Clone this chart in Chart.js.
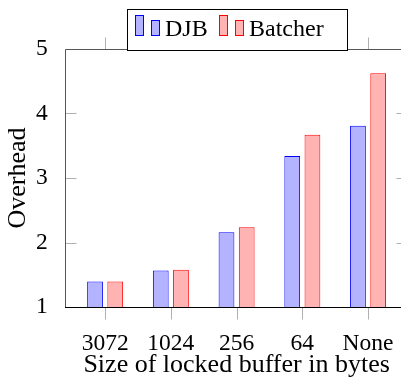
<!DOCTYPE html>
<html><head><meta charset="utf-8">
<script src="https://cdn.jsdelivr.net/npm/chart.js@4.4.1/dist/chart.umd.min.js"></script>
<style>
html,body{margin:0;padding:0;overflow:hidden;background:#fff;width:401px;height:381px}
#wrap{position:absolute;left:0;top:0;width:420px;height:381px}
</style>
</head><body><div id="wrap"><canvas id="c" width="420" height="381"></canvas></div>
<script>
const categories = ['3072', '1024', '256', '64', 'None'];
const seriesNames = ['DJB', 'Batcher'];
const djbValues = [1.40, 1.57, 2.16, 3.34, 3.81];
const batcherValues = [1.40, 1.58, 2.24, 3.67, 4.62];
const yTicks = [1, 2, 3, 4, 5];
const xTitle = 'Size of locked buffer in bytes';
const yTitle = 'Overhead';

const FONT = "'Liberation Serif', 'DejaVu Serif', serif";
Chart.defaults.font.family = FONT;
Chart.defaults.color = '#000';

const toPoints = vals => vals.map((v, i) => ({ x: i, y: v }));

const framePlugin = {
  id: 'frame',
  afterDatasetsDraw(chart) {
    const { ctx, chartArea: a, scales: { x, y } } = chart;
    const L = Math.round(a.left) - 0.5, R = Math.round(a.right) - 0.5;
    const T = Math.round(a.top) + 0.5, B = Math.round(a.bottom) + 0.5;
    ctx.save();
    ctx.lineWidth = 1;
    ctx.strokeStyle = '#b0b0b0';
    ctx.beginPath();
    yTicks.forEach(v => {
      const py = Math.round(y.getPixelForValue(v)) + 0.5;
      ctx.moveTo(L, py); ctx.lineTo(L + 11, py);
      ctx.moveTo(R, py); ctx.lineTo(R - 11, py);
    });
    categories.forEach((c, i) => {
      const px = Math.round(x.getPixelForValue(i)) + 0.5;
      ctx.moveTo(px, B); ctx.lineTo(px, B + 12);
      ctx.moveTo(px, T); ctx.lineTo(px, T - 12);
    });
    ctx.stroke();
    ctx.strokeStyle = '#555';
    ctx.beginPath();
    ctx.moveTo(L, B); ctx.lineTo(L, T); ctx.lineTo(R, T); ctx.lineTo(R, B);
    ctx.stroke();
    ctx.strokeStyle = '#000';
    ctx.beginPath();
    ctx.moveTo(L - 0.5, B); ctx.lineTo(R + 0.5, B);
    ctx.stroke();
    ctx.restore();
  },
  afterDraw(chart) {
    const ctx = chart.ctx;
    ctx.save();
    ctx.lineWidth = 1;
    ctx.fillStyle = '#fff';
    ctx.strokeStyle = '#000';
    ctx.fillRect(127.5, 9.5, 220, 41);
    ctx.strokeRect(127.5, 9.5, 220, 41);
    const starts = [135, 219];
    ctx.font = '24px ' + FONT;
    ctx.textBaseline = 'alphabetic';
    chart.data.datasets.forEach((ds, i) => {
      const x0 = starts[i];
      ctx.fillStyle = ds.backgroundColor;
      ctx.strokeStyle = ds.borderColor;
      ctx.fillRect(x0 + 0.5, 15.5, 8, 20);
      ctx.strokeRect(x0 + 0.5, 15.5, 8, 20);
      ctx.fillRect(x0 + 16.5, 20.5, 8, 15);
      ctx.strokeRect(x0 + 16.5, 20.5, 8, 15);
      ctx.fillStyle = '#000';
      ctx.fillText(ds.label, x0 + 30, 35.5);
    });
    ctx.restore();
  }
};

new Chart(document.getElementById('c'), {
  type: 'bar',
  data: {
    datasets: [
      { label: seriesNames[0], data: toPoints(djbValues), backgroundColor: '#b3b3ff', borderColor: '#0000ff', borderWidth: 1 },
      { label: seriesNames[1], data: toPoints(batcherValues), backgroundColor: '#ffb3b3', borderColor: '#ff0000', borderWidth: 1 }
    ]
  },
  options: {
    responsive: false,
    devicePixelRatio: 1,
    animation: false,
    categoryPercentage: 0.615,
    barPercentage: 0.78,
    layout: { padding: { top: 48.8, right: 12.5, left: 0, bottom: 0 } },
    plugins: { legend: { display: false }, tooltip: { enabled: false } },
    scales: {
      x: {
        type: 'linear',
        offset: false,
        min: -0.6,
        max: 4.6,
        grid: { display: false, offset: false },
        border: { display: false },
        afterBuildTicks: s => { s.ticks = categories.map((c, i) => ({ value: i })); },
        afterFit: s => { s.height = 73.7; s.paddingLeft = 0; s.paddingRight = 0; },
        ticks: {
          autoSkip: false,
          maxRotation: 0,
          padding: 14.5,
          font: { size: 23.5 },
          callback: v => categories[v]
        },
        title: { display: true, text: xTitle, font: { size: 26 }, padding: { top: 0, bottom: 0 } }
      },
      y: {
        min: 1,
        max: 5,
        grid: { display: false },
        border: { display: false },
        afterBuildTicks: s => { s.ticks = yTicks.map(v => ({ value: v })); },
        afterFit: s => { s.width = 65.7; },
        ticks: { padding: 10, font: { size: 23.5 } },
        title: { display: true, text: yTitle, font: { size: 26 }, padding: { top: 3, bottom: 0 } }
      }
    }
  },
  plugins: [framePlugin]
});
</script>
</body></html>
